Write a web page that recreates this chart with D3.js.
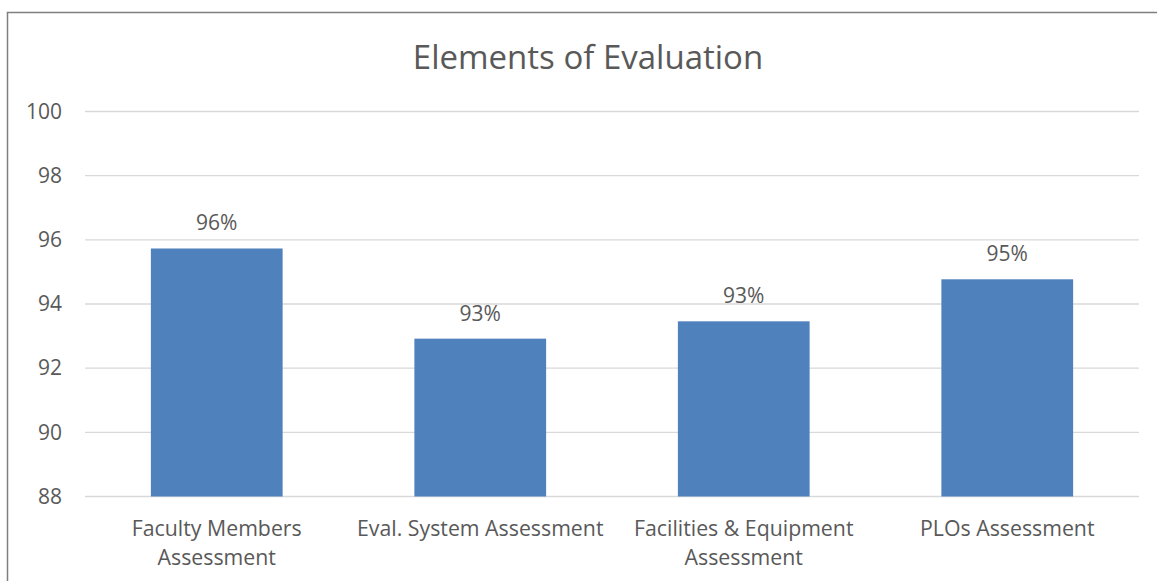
<!DOCTYPE html>
<html>
<head>
<meta charset="utf-8">
<script src="https://cdn.jsdelivr.net/npm/d3@7"></script>
<style>
  body { margin: 0; background: #fff; }
  svg text { font-family: "Open Sans", sans-serif; fill: #595959; }
</style>
</head>
<body>
<div id="chart"></div>
<script>
// Chart data
const categories = [
    ['Faculty Members', 'Assessment'],
    ['Eval. System Assessment'],
    ['Facilities & Equipment', 'Assessment'],
    ['PLOs Assessment']
];
const values = [95.73, 92.92, 93.46, 94.77];
const yTicks = [88, 90, 92, 94, 96, 98, 100];

const width = 1157, height = 581;
const margin = {top: 111.5, right: 18, bottom: 84.5, left: 85};

const svg = d3.select('#chart').append('svg')
    .attr('width', width)
    .attr('height', height);

// Outer frame (only top and left visible in window)
svg.append('rect')
    .attr('x', 7.5).attr('y', 12.5)
    .attr('width', width).attr('height', height)
    .attr('fill', 'none')
    .attr('stroke', '#7f7f7f')
    .attr('stroke-width', 1.5);

// Title
svg.append('text')
    .attr('x', 588).attr('y', 69)
    .attr('text-anchor', 'middle')
    .style('font-size', '33px')
    .text('Elements of Evaluation');

const x = d3.scaleBand()
    .domain(d3.range(categories.length))
    .range([margin.left, width - margin.right])
    .paddingInner(0.5)
    .paddingOuter(0.25);

const y = d3.scaleLinear()
    .domain([88, 100])
    .range([height - margin.bottom, margin.top]);

// Gridlines
svg.append('g')
    .selectAll('line')
    .data(yTicks)
    .join('line')
    .attr('x1', margin.left)
    .attr('x2', width - margin.right)
    .attr('y1', d => y(d))
    .attr('y2', d => y(d))
    .attr('stroke', '#d9d9d9')
    .attr('stroke-width', 1.3);

// Y axis labels
const yAxis = svg.append('g')
    .attr('transform', `translate(${margin.left},0)`)
    .call(d3.axisLeft(y).tickValues(yTicks).tickSize(0).tickPadding(23));
yAxis.select('.domain').remove();
yAxis.selectAll('text')
    .style('font-size', '21px')
    .style('font-family', '"Open Sans", sans-serif')
    .attr('fill', '#595959');

// Bars
svg.append('g')
    .selectAll('rect')
    .data(values)
    .join('rect')
    .attr('x', (d, i) => x(i))
    .attr('y', d => y(d))
    .attr('width', x.bandwidth())
    .attr('height', d => y(88) - y(d))
    .attr('fill', '#4f81bd');

// Value labels
svg.append('g')
    .selectAll('text')
    .data(values)
    .join('text')
    .attr('x', (d, i) => x(i) + x.bandwidth() / 2)
    .attr('y', d => y(d) - 18)
    .attr('text-anchor', 'middle')
    .style('font-size', '21px')
    .text(d => Math.round(d) + '%');

// Category labels
const catLabels = svg.append('g')
    .selectAll('text')
    .data(categories)
    .join('text')
    .attr('x', (d, i) => x(i) + x.bandwidth() / 2)
    .attr('y', 536)
    .attr('text-anchor', 'middle')
    .style('font-size', '21.3px');
catLabels.selectAll('tspan')
    .data(d => d)
    .join('tspan')
    .attr('x', function() { return d3.select(this.parentNode).attr('x'); })
    .attr('dy', (d, i) => i === 0 ? 0 : 28.5)
    .text(d => d);
</script>
</body>
</html>
